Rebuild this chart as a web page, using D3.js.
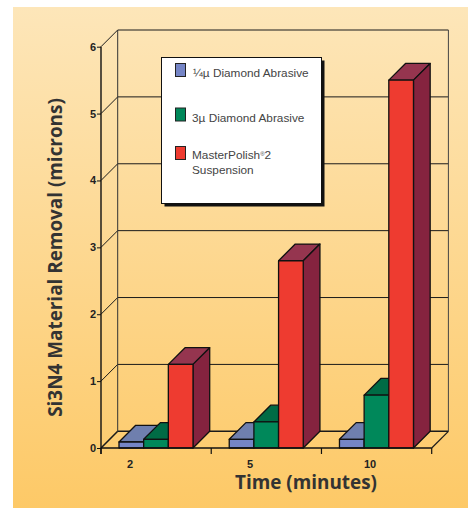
<!DOCTYPE html>
<html><head><meta charset="utf-8">
<style>html,body{margin:0;padding:0;background:#fff}svg{display:block}</style>
<script src="https://cdn.jsdelivr.net/npm/d3@7"></script></head>
<body><svg id="c" width="468" height="508"></svg>
<script>
const times = ["2","5","10"];
const seriesNames = ["¼µ Diamond Abrasive","3µ Diamond Abrasive","MasterPolish®2 Suspension"];
const quarterMicron = [0.09,0.13,0.13];
const threeMicron = [0.13,0.39,0.79];
const masterPolish = [1.25,2.8,5.5];
const yTicks = [0,1,2,3,4,5,6];
const fronts = ["#7585c6","#00885a","#ee3b30"];
const tops = ["#6f7fae","#006b45","#95354f"];
const sides = ["#5d6a9a","#005c3c","#85233f"];
const series = [quarterMicron,threeMicron,masterPolish];

const svg = d3.select("#c");
const defs = svg.append("defs");
const g = defs.append("linearGradient").attr("id","bg").attr("x1",0).attr("x2",0).attr("y1",0).attr("y2",1);
g.append("stop").attr("offset",0).attr("stop-color","#fde6b9");
g.append("stop").attr("offset",1).attr("stop-color","#fdc967");
svg.append("rect").attr("x",13).attr("y",7).attr("width",455).attr("height",501).attr("fill","url(#bg)");

const D = 16.7;
const xL = 101, xR = 431.7, yB = 448, yT = 46.7;
const y = d3.scaleLinear().domain([0,6]).range([yB,yT]);
const x0 = d3.scaleBand().domain(times).range([xL,xR]);
const x1 = d3.scaleBand().domain([0,1,2]).range([0,74]);
const barOffset = 18;
const labelX = d3.scalePoint().domain(times).range([130,370]);
const ink = "#1a1a1a";

// back wall gridlines & side diagonals
const grid = svg.append("g");
yTicks.forEach(t=>{
  const yy = y(t);
  const thick = t===0 ? 1.6 : 1;
  if(t>0) grid.append("line").attr("x1",xL+D).attr("x2",xR+D).attr("y1",yy-D).attr("y2",yy-D).attr("stroke",ink).attr("stroke-width",1);
  else grid.append("line").attr("x1",xL+D).attr("x2",xR+D).attr("y1",yy-D).attr("y2",yy-D).attr("stroke",ink).attr("stroke-width",1.6);
  grid.append("line").attr("x1",xL).attr("x2",xL+D).attr("y1",yy).attr("y2",yy-D).attr("stroke",ink).attr("stroke-width",thick);
});
grid.append("line").attr("x1",xL+D).attr("x2",xL+D).attr("y1",y(6)-D).attr("y2",yB-D).attr("stroke","#333").attr("stroke-width",1);
grid.append("line").attr("x1",xR+D).attr("x2",xR+D).attr("y1",y(6)-D).attr("y2",yB-D).attr("stroke","#444").attr("stroke-width",1);
grid.append("line").attr("x1",xR).attr("x2",xR+D).attr("y1",yB).attr("y2",yB-D).attr("stroke",ink).attr("stroke-width",1.2);

// legend
const lg = svg.append("g");
lg.append("rect").attr("x",164.5).attr("y",60.5).attr("width",160).attr("height",146).attr("fill","#111");
lg.append("rect").attr("x",161.5).attr("y",57.5).attr("width",160).attr("height",146).attr("fill","#fff").attr("stroke","#111").attr("stroke-width",1);
const swY = [63.5,108,146.5];
const txtFont = "'Liberation Sans',Arial,sans-serif";
const fs = 11.8;
seriesNames.forEach((n,i)=>{
  lg.append("rect").attr("x",175.5).attr("y",swY[i]).attr("width",10).attr("height",13).attr("fill",fronts[i]).attr("stroke","#222").attr("stroke-width",1);
});
const lt = (x,yy,s)=>lg.append("text").attr("x",x).attr("y",yy).attr("font-family",txtFont).attr("font-size",fs).attr("fill","#444").text(s);
lt(193,77,seriesNames[0]);
lt(192,121.5,seriesNames[1]);
const mp = lg.append("text").attr("x",192).attr("y",159).attr("font-family",txtFont).attr("font-size",fs).attr("fill","#444");
mp.append("tspan").text("MasterPolish");
mp.append("tspan").attr("font-size",6).attr("dy",-3.5).text("®");
mp.append("tspan").attr("dy",3.5).text("2");
lt(192,174,"Suspension");

// bars
const bars = svg.append("g").attr("stroke","#111").attr("stroke-width",1.3).attr("stroke-linejoin","round");
times.forEach((t,ti)=>{
  series.forEach((s,si)=>{
    const xa = x0(t)+barOffset+x1(si), w = x1.bandwidth(), xb = xa+w, ya = y(s[ti]);
    bars.append("path").attr("fill",tops[si]).attr("d",`M${xa},${ya}L${xa+D},${ya-D}L${xb+D},${ya-D}L${xb},${ya}Z`);
    bars.append("path").attr("fill",sides[si]).attr("d",`M${xb},${ya}L${xb+D},${ya-D}L${xb+D},${yB-D}L${xb},${yB}Z`);
    bars.append("rect").attr("x",xa).attr("y",ya).attr("width",w).attr("height",yB-ya).attr("fill",fronts[si]);
  });
});

// front axes
const yAxis = d3.axisLeft(y).tickValues(yTicks).tickSize(4).tickFormat(d3.format("d"));
const ya = svg.append("g").attr("transform",`translate(${xL},0)`).call(yAxis);
ya.select(".domain").attr("stroke","#111").attr("stroke-width",1.4).attr("d",`M0,${yB+6}V${yT}`);
ya.selectAll(".tick line").attr("stroke","#111").attr("stroke-width",1);
ya.selectAll(".tick text").attr("x",-5).attr("font-family","'Liberation Sans Narrow','Liberation Sans',sans-serif").attr("font-weight","bold").attr("font-size",11).attr("fill","#222");

svg.append("line").attr("x1",xL).attr("x2",xR).attr("y1",yB).attr("y2",yB).attr("stroke","#111").attr("stroke-width",1.6);
const xTicksPos = [...times.map(t=>x0(t)),xR];
svg.append("g").selectAll("line").data(xTicksPos).join("line").attr("x1",d=>d).attr("x2",d=>d).attr("y1",yB).attr("y2",yB+6).attr("stroke","#111").attr("stroke-width",1.2);
svg.append("g").selectAll("text").data(times).join("text").attr("x",d=>labelX(d)).attr("y",468).attr("text-anchor","middle")
  .attr("font-family","'Liberation Sans Narrow','Liberation Sans',sans-serif").attr("font-weight","bold").attr("font-size",11).attr("fill","#222").text(d=>d);

// titles
svg.append("text").attr("x",306).attr("y",489).attr("text-anchor","middle").attr("font-family","'Open Sans',sans-serif").attr("font-weight","bold").attr("font-size",18.9).attr("fill","#333").text("Time (minutes)");
svg.append("text").attr("transform","translate(62,257.5) rotate(-90)").attr("text-anchor","middle").attr("font-family","'Open Sans',sans-serif").attr("font-weight","bold").attr("font-size",18.9).attr("fill","#333").text("Si3N4 Material Removal (microns)");
</script></body></html>
